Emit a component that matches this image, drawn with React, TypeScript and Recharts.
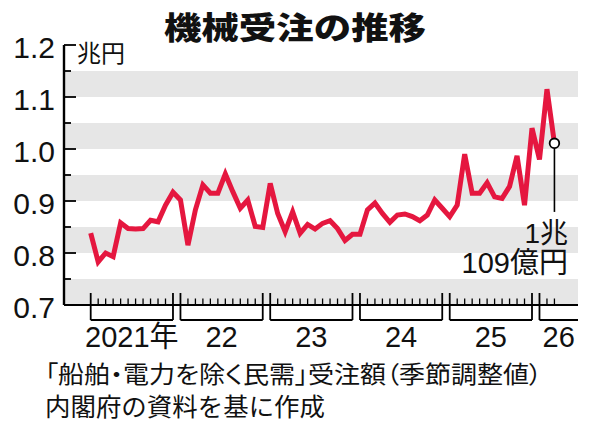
import React from 'react';
import { LineChart, Line, XAxis, YAxis, ReferenceArea, ReferenceLine } from 'recharts';

// ---- data ----
const yearLabels = ['2021年', '22', '23', '24', '25', '26'];
const orders2021 = [0.838, 0.783, 0.8, 0.793, 0.858, 0.847, 0.846, 0.847, 0.863, 0.86, 0.892, 0.917];
const orders2022 = [0.902, 0.815, 0.883, 0.931, 0.915, 0.915, 0.952, 0.918, 0.886, 0.902, 0.851, 0.849];
const orders2023 = [0.934, 0.876, 0.841, 0.879, 0.838, 0.855, 0.846, 0.857, 0.862, 0.847, 0.824, 0.836];
const orders2024 = [0.836, 0.883, 0.896, 0.876, 0.859, 0.873, 0.875, 0.87, 0.862, 0.873, 0.902, 0.886];
const orders2025 = [0.87, 0.892, 0.99, 0.915, 0.915, 0.935, 0.908, 0.905, 0.928, 0.987, 0.892, 1.04];
const orders2026 = [0.98, 1.115, 1.011];
const yTicks = [0.7, 0.75, 0.8, 0.85, 0.9, 0.95, 1.0, 1.05, 1.1, 1.15, 1.2];
const yLabelTicks = ['0.7', '0.8', '0.9', '1.0', '1.1', '1.2'];
const bandRanges: [number, number][] = [
  [0.7, 0.75],
  [0.8, 0.85],
  [0.9, 0.95],
  [1.0, 1.05],
  [1.1, 1.15],
];
const latestLabel = ['1兆', '109億円'];

const allValues = [...orders2021, ...orders2022, ...orders2023, ...orders2024, ...orders2025, ...orders2026];
const data = allValues.map((v, i) => ({ t: i, v }));
const LAST = data.length - 1;
const xTicks = data.map((d) => d.t);

// ---- layout ----
const W = 600;
const H = 425;
const MARGIN = { top: 45, right: 22, bottom: 90, left: 4 };
const Y_AXIS_W = 60;
const X_AXIS_H = 30;
const PLOT_LEFT = MARGIN.left + Y_AXIS_W;
const PLOT_RIGHT = W - MARGIN.right;
const X_MIN = -3.57;
const X_MAX = 65.15;
const STEP = (PLOT_RIGHT - PLOT_LEFT) / (X_MAX - X_MIN);

const RED = '#e5173f';
const BAND = '#e6e6e6';
const NUM_FONT = "'Liberation Sans', Arial, 'Noto Sans CJK JP', sans-serif";
const JP_FONT = "'Noto Sans CJK JP', sans-serif";

const XTick = (props: any) => {
  const { x, y, payload } = props;
  const i = payload.value as number;
  const m = i % 12;
  const yearIdx = Math.floor(i / 12);
  const parts: React.ReactNode[] = [];
  if (m === 0 || m === 11) {
    parts.push(<line key="v" x1={x} x2={x} y1={y - 12} y2={y + 15} stroke="#000" strokeWidth={1.8} />);
  } else {
    parts.push(<line key="v" x1={x} x2={x} y1={y} y2={y - 6.5} stroke="#000" strokeWidth={1.3} />);
  }
  if (m === 0) {
    const endX = i + 11 <= LAST ? x + 11 * STEP : PLOT_RIGHT;
    parts.push(<line key="h" x1={x} x2={endX} y1={y + 15} y2={y + 15} stroke="#000" strokeWidth={1.8} />);
    parts.push(
      <text
        key="t"
        x={(x + endX) / 2}
        y={y + 32}
        textAnchor="middle"
        dominantBaseline="central"
        fontFamily={NUM_FONT}
        fontSize={29}
        fill="#111"
      >
        {yearLabels[yearIdx]}
      </text>
    );
  }
  return <g>{parts}</g>;
};

const YTick = (props: any) => {
  const { x, y, payload } = props;
  const v = payload.value as number;
  const label = v.toFixed(1);
  const major = yLabelTicks.includes(label) && Math.abs(v * 10 - Math.round(v * 10)) < 1e-6;
  return (
    <g>
      <line x1={x} x2={x + (major ? 12 : 7)} y1={y} y2={y} stroke="#000" strokeWidth={1.8} />
      {major && (
        <text
          x={x - 9}
          y={y + 2}
          textAnchor="end"
          dominantBaseline="central"
          fontFamily={NUM_FONT}
          fontSize={30}
          fill="#111"
        >
          {label}
        </text>
      )}
    </g>
  );
};

const renderDot = (props: any) => {
  const { cx, cy, index } = props;
  if (index !== LAST) return <g key={`d${index}`} />;
  return <circle key={`d${index}`} cx={cx} cy={cy} r={4.8} fill="#fff" stroke="#000" strokeWidth={1.8} />;
};

export default function App() {
  return (
    <div style={{ position: 'absolute', left: 0, top: 0, width: W, height: H, background: '#fff' }}>
      <LineChart width={W} height={H} data={data} margin={MARGIN}>
        {bandRanges.map(([a, b]) => (
          <ReferenceArea key={a} x1={X_MIN} x2={X_MAX} y1={a} y2={b} fill={BAND} fillOpacity={1} stroke="none" />
        ))}
        <XAxis
          dataKey="t"
          type="number"
          domain={[X_MIN, X_MAX]}
          allowDataOverflow
          ticks={xTicks}
          interval={0}
          tickSize={0}
          tickMargin={0}
          tickLine={false}
          height={X_AXIS_H}
          axisLine={{ stroke: '#000', strokeWidth: 2 }}
          tick={<XTick />}
        />
        <YAxis
          type="number"
          domain={[0.7, 1.2]}
          ticks={yTicks}
          interval={0}
          width={Y_AXIS_W}
          tickSize={0}
          tickMargin={0}
          tickLine={false}
          axisLine={{ stroke: '#000', strokeWidth: 2.4 }}
          tick={<YTick />}
        />
        <ReferenceLine
          segment={[
            { x: LAST, y: allValues[LAST] },
            { x: LAST, y: 0.879 },
          ]}
          stroke="#000"
          strokeWidth={1.6}
        />
        <Line
          type="linear"
          dataKey="v"
          stroke={RED}
          strokeWidth={5}
          dot={renderDot}
          activeDot={false}
          isAnimationActive={false}
        />
      </LineChart>
      <svg
        width={W}
        height={H}
        style={{ position: 'absolute', left: 0, top: 0, pointerEvents: 'none' }}
      >
        <text
          x={164}
          y={25}
          dominantBaseline="central"
          fontFamily={JP_FONT}
          fontWeight={900}
          fontSize={31}
          textLength={262}
          lengthAdjust="spacingAndGlyphs"
          fill="#111"
        >
          機械受注の推移
        </text>
        <text x={77} y={51} dominantBaseline="central" fontFamily={JP_FONT} fontSize={24} fill="#111">
          兆円
        </text>
        <text
          x={568}
          y={233}
          textAnchor="end"
          dominantBaseline="central"
          fontFamily={NUM_FONT}
          fontSize={28}
          fill="#111"
        >
          {latestLabel[0]}
        </text>
        <text
          x={568}
          y={263}
          textAnchor="end"
          dominantBaseline="central"
          fontFamily={NUM_FONT}
          fontSize={29}
          fill="#111"
        >
          {latestLabel[1]}
        </text>
        <text
          x={45}
          y={372}
          dominantBaseline="central"
          fontFamily={JP_FONT}
          fontSize={24}
          textLength={497}
          lengthAdjust="spacingAndGlyphs"
          style={{ fontFeatureSettings: "'palt'" }}
          fill="#111"
        >
          「船舶・電力を除く民需」受注額（季節調整値）
        </text>
        <text
          x={45}
          y={405}
          dominantBaseline="central"
          fontFamily={JP_FONT}
          fontSize={25}
          textLength={280}
          lengthAdjust="spacingAndGlyphs"
          fill="#111"
        >
          内閣府の資料を基に作成
        </text>
      </svg>
    </div>
  );
}
